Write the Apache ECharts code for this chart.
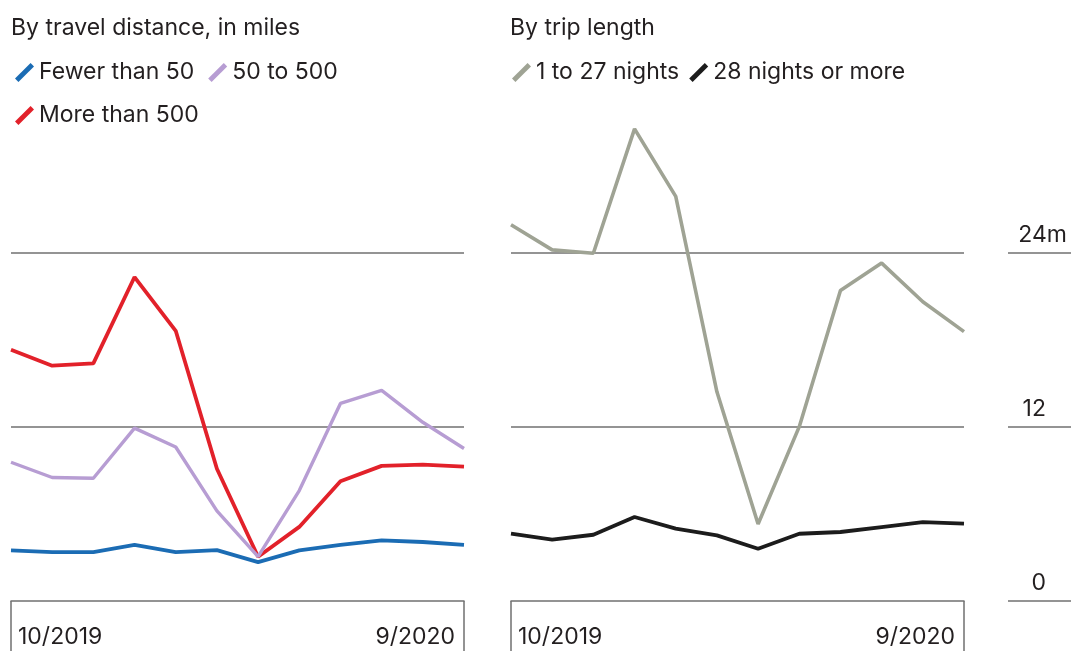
<!DOCTYPE html>
<html>
<head>
<meta charset="utf-8">
<script src="https://cdn.jsdelivr.net/npm/echarts@6/dist/echarts.min.js"></script>
<style>
html,body{margin:0;padding:0;background:#fff;}
#chart{width:1071px;height:651px;}
</style>
</head>
<body>
<div id="chart"></div>
<script>
const months = ['10/2019','11/2019','12/2019','1/2020','2/2020','3/2020','4/2020','5/2020','6/2020','7/2020','8/2020','9/2020'];
const fewerThan50 = [3.48, 3.37, 3.37, 3.87, 3.37, 3.5, 2.68, 3.48, 3.87, 4.17, 4.06, 3.87];
const from50to500 = [9.55, 8.5, 8.45, 11.9, 10.6, 6.2, 3.05, 7.6, 13.6, 14.5, 12.3, 10.5];
const moreThan500 = [17.3, 16.2, 16.36, 22.3, 18.6, 9.1, 3.05, 5.1, 8.24, 9.3, 9.39, 9.25];
const nights1to27 = [25.9, 24.17, 23.94, 32.5, 27.85, 14.4, 5.3, 12.0, 21.37, 23.26, 20.6, 18.54];
const nights28plus = [4.63, 4.22, 4.56, 5.78, 4.98, 4.52, 3.6, 4.63, 4.75, 5.09, 5.43, 5.32];
const yTicks = [0, 12, 24];

const FONT = 'Inter';
const FS = 23;
const TXT = '#231f20';
const GRID = '#707070';
const icon = 'path://M0,16 L16,0 L19.5,3.5 L3.5,19.5 Z';

const chart = echarts.init(document.getElementById('chart'), null, {renderer: 'canvas'});

function xAxisFor(gi) {
  return {
    gridIndex: gi, type: 'category', data: months, boundaryGap: false,
    axisLine: {show: true, lineStyle: {color: GRID, width: 1.5}},
    axisTick: {show: true, length: 55, interval: (i) => i === 0 || i === months.length - 1,
      lineStyle: {color: GRID, width: 1.5}},
    axisLabel: {
      interval: (i) => i === 0 || i === months.length - 1,
      alignMinLabel: 'left', alignMaxLabel: 'right',
      formatter: (v, i) => i === 0 ? '{a|' + v + '}' : '{b|' + v + '}',
      rich: {
        a: {fontFamily: FONT, fontSize: FS, color: TXT, padding: [0, 0, 0, 7]},
        b: {fontFamily: FONT, fontSize: FS, color: TXT, padding: [0, 9, 0, 0]}
      },
      margin: 25
    },
    splitLine: {show: false}
  };
}
function yAxisFor(gi) {
  return {
    gridIndex: gi, type: 'value', min: 0, max: 36, interval: 12,
    axisLine: {show: false}, axisTick: {show: false}, axisLabel: {show: false},
    splitLine: {show: true, lineStyle: {color: ['rgba(0,0,0,0)', GRID, GRID, 'rgba(0,0,0,0)'], width: 1.5}}
  };
}

const lineSeries = (name, data, color, gi, width) => ({
  name, type: 'line', data, xAxisIndex: gi, yAxisIndex: gi,
  symbol: 'none', smooth: false,
  lineStyle: {color, width}, itemStyle: {color}
});

const legendText = {fontFamily: FONT, fontSize: FS, color: TXT};

const option = {
  animation: false,
  backgroundColor: '#fff',
  textStyle: {fontFamily: FONT},
  title: [
    {text: 'By travel distance, in miles', left: 6, top: 12,
      textStyle: {fontFamily: FONT, fontSize: FS, fontWeight: 'normal', color: TXT}},
    {text: 'By trip length', left: 505, top: 12,
      textStyle: {fontFamily: FONT, fontSize: FS, fontWeight: 'normal', color: TXT}}
  ],
  legend: [
    {data: ['Fewer than 50', '50 to 500'], left: 10, top: 56, icon, itemWidth: 19, itemHeight: 19, itemGap: 14,
      textStyle: legendText, selectedMode: false},
    {data: ['More than 500'], left: 10, top: 99, icon, itemWidth: 19, itemHeight: 19,
      textStyle: legendText, selectedMode: false},
    {data: ['1 to 27 nights', '28 nights or more'], left: 507, top: 56, icon, itemWidth: 19, itemHeight: 19, itemGap: 10,
      textStyle: legendText, selectedMode: false}
  ],
  grid: [
    {left: 11, width: 453, top: 78, height: 523},
    {left: 511, width: 453, top: 78, height: 523},
    {left: 1008, width: 63, top: 78, height: 523}
  ],
  xAxis: [xAxisFor(0), xAxisFor(1), {gridIndex: 2, type: 'value', show: false, min: 0, max: 1}],
  yAxis: [yAxisFor(0), yAxisFor(1), {
    gridIndex: 2, type: 'value', min: 0, max: 36, interval: 12, position: 'right',
    axisLine: {show: false}, axisTick: {show: false},
    splitLine: {show: true, lineStyle: {color: [GRID, GRID, GRID, 'rgba(0,0,0,0)'], width: 1.5}},
    axisLabel: {
      inside: true, margin: 4, verticalAlign: 'bottom',
      formatter: (v) => yTicks.indexOf(v) < 0 ? '' : (v === 24 ? '{n|' + v + 'm}' : '{p|' + v + '}'),
      rich: {
        n: {fontFamily: FONT, fontSize: FS, color: TXT, padding: [0, 0, 6, 0]},
        p: {fontFamily: FONT, fontSize: FS, color: TXT, padding: [0, 21, 6, 0]}
      }
    }
  }],
  series: [
    lineSeries('Fewer than 50', fewerThan50, '#1b6cb4', 0, 3.8),
    lineSeries('More than 500', moreThan500, '#e2212a', 0, 3.8),
    lineSeries('50 to 500', from50to500, '#b79dd3', 0, 3.4),
    lineSeries('1 to 27 nights', nights1to27, '#9fa394', 1, 3.6),
    lineSeries('28 nights or more', nights28plus, '#1c1c1c', 1, 3.8)
  ]
};
chart.setOption(option);
</script>
</body>
</html>
